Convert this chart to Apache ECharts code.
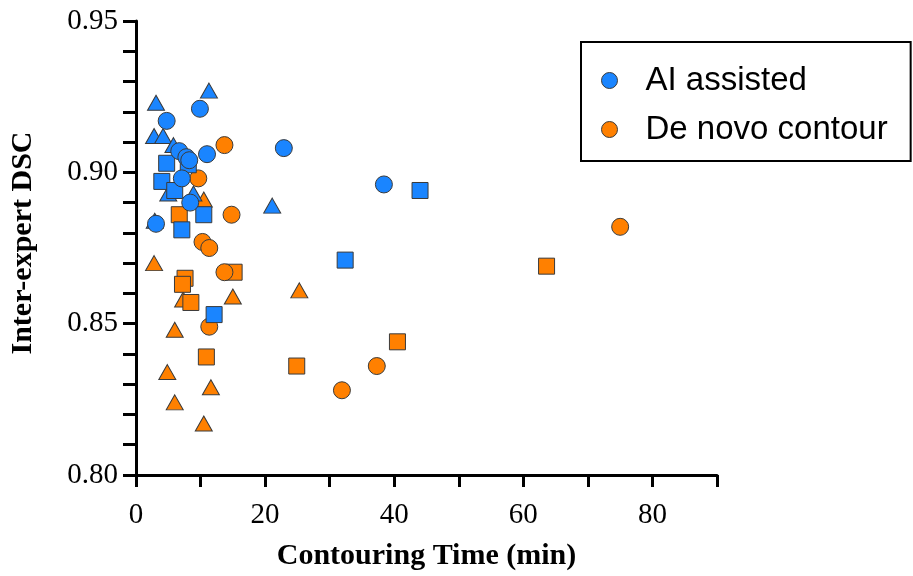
<!DOCTYPE html>
<html>
<head>
<meta charset="utf-8">
<script src="https://cdn.jsdelivr.net/npm/echarts@6/dist/echarts.min.js"></script>
<style>
  html, body { margin: 0; padding: 0; background: #fff; }
  #chart { width: 913px; height: 576px; }
</style>
</head>
<body>
<div id="chart"></div>
<script>
// [contouring time (min), inter-expert DSC]
var aiCircle = [[9.9,0.921],[4.75,0.917],[6.7,0.907],[7.8,0.905],[8.25,0.904],[11.0,0.906],[22.9,0.908],[7.1,0.898],[8.4,0.890],[3.1,0.883],[38.4,0.896]];
var aiSquare = [[4.75,0.903],[8.1,0.9025],[4.0,0.897],[6.0,0.894],[10.5,0.886],[7.1,0.881],[44.0,0.894],[32.4,0.871],[12.1,0.853]];
var aiTriangle = [[11.3,0.927],[3.1,0.923],[2.8,0.912],[4.2,0.912],[5.8,0.909],[5.0,0.893],[8.9,0.893],[21.1,0.889],[2.9,0.884]];

var deNovoCircle = [[13.7,0.909],[9.65,0.898],[14.8,0.886],[10.3,0.877],[11.35,0.875],[13.7,0.867],[11.35,0.849],[75.0,0.882],[37.3,0.836],[31.9,0.828]];
var deNovoSquare = [[6.7,0.886],[7.6,0.865],[7.2,0.863],[8.5,0.857],[15.2,0.867],[10.9,0.839],[24.9,0.836],[40.5,0.844],[63.6,0.869]];
var deNovoTriangle = [[10.5,0.891],[2.8,0.870],[7.3,0.858],[15.0,0.859],[25.3,0.861],[6.0,0.848],[4.85,0.834],[11.6,0.829],[6.0,0.824],[10.5,0.817]];

var groupNames = ['AI assisted', 'De novo contour'];
var blue = '#1a85ff';
var orange = '#ff8000';

var chart = echarts.init(document.getElementById('chart'));

function scatter(name, data, symbol, size, color) {
    return {
        name: name,
        type: 'scatter',
        data: data,
        symbol: symbol,
        symbolSize: size,
        itemStyle: { color: color, borderColor: '#3a3a3a', borderWidth: 1, opacity: 1 },
        emphasis: { disabled: true }
    };
}

var serif = '"Liberation Serif", "Times New Roman", serif';

var option = {
    animation: false,
    grid: { left: 136, right: 196, top: 21, bottom: 99 },
    legend: {
        orient: 'vertical',
        left: 581,
        top: 42,
        data: [
            { name: groupNames[0], icon: 'circle', itemStyle: { color: blue, borderColor: '#3a3a3a', borderWidth: 1 } },
            { name: groupNames[1], icon: 'circle', itemStyle: { color: orange, borderColor: '#3a3a3a', borderWidth: 1 } }
        ],
        itemWidth: 16,
        itemHeight: 16,
        itemGap: 16,
        padding: [22, 23, 15, 20],
        borderColor: '#000',
        borderWidth: 2,
        selectedMode: false,
        textStyle: {
            fontFamily: '"Liberation Sans", Arial, sans-serif',
            fontSize: 33,
            lineHeight: 32,
            color: '#000',
            padding: [0, 0, 0, 23]
        }
    },
    xAxis: {
        type: 'value',
        min: 0,
        max: 90,
        interval: 10,
        name: 'Contouring Time (min)',
        nameLocation: 'middle',
        nameGap: 66,
        nameTextStyle: { fontFamily: serif, fontWeight: 'bold', fontSize: 30, color: '#000' },
        axisLine: { show: true, lineStyle: { color: '#000', width: 3 } },
        axisTick: { show: true, length: 12, lineStyle: { color: '#000', width: 3 } },
        axisLabel: {
            margin: 26,
            fontFamily: serif,
            fontSize: 29,
            color: '#000',
            formatter: function (v) { return v % 20 === 0 ? String(v) : ''; }
        },
        splitLine: { show: false }
    },
    yAxis: {
        type: 'value',
        min: 0.8,
        max: 0.95,
        interval: 0.05,
        name: 'Inter-expert DSC',
        nameLocation: 'middle',
        nameGap: 98,
        nameTextStyle: { fontFamily: serif, fontWeight: 'bold', fontSize: 30, color: '#000', padding: [0, 0, 0, 10] },
        axisLine: { show: true, lineStyle: { color: '#000', width: 3 } },
        axisTick: { show: true, length: 13, lineStyle: { color: '#000', width: 3 } },
        minorTick: { show: true, splitNumber: 5, length: 13, lineStyle: { color: '#000', width: 3 } },
        axisLabel: {
            margin: 18,
            fontFamily: serif,
            fontSize: 29,
            color: '#000',
            formatter: function (v) { return v.toFixed(2); }
        },
        splitLine: { show: false },
        minorSplitLine: { show: false }
    },
    series: [
        scatter(groupNames[1], deNovoTriangle, 'triangle', [17, 15], orange),
        scatter(groupNames[1], deNovoSquare, 'rect', 16, orange),
        scatter(groupNames[1], deNovoCircle, 'circle', 17, orange),
        scatter(groupNames[0], aiTriangle, 'triangle', [17, 15], blue),
        scatter(groupNames[0], aiSquare, 'rect', 16, blue),
        scatter(groupNames[0], aiCircle, 'circle', 17, blue)
    ]
};

chart.setOption(option);
</script>
</body>
</html>
